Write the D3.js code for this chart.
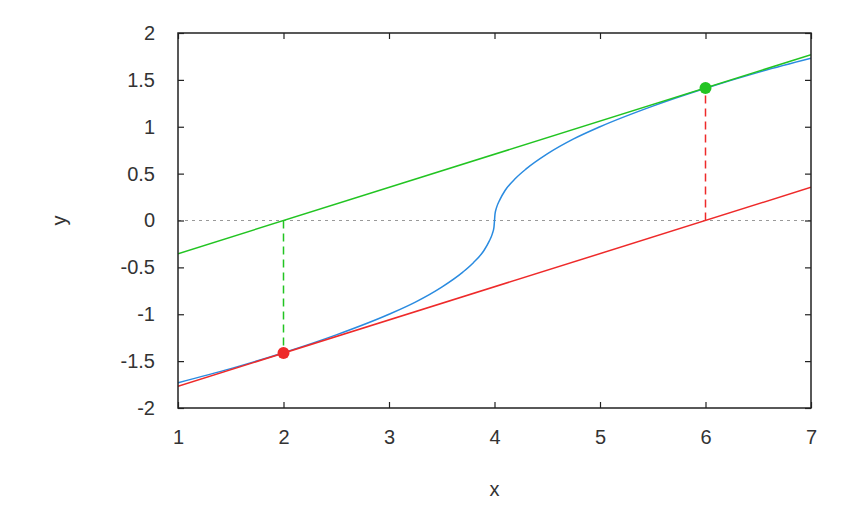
<!DOCTYPE html>
<html>
<head>
<meta charset="utf-8">
<script src="https://cdn.jsdelivr.net/npm/d3@7.9.0/dist/d3.min.js"></script>
<style>
  body { margin: 0; background: #fff; }
  text { font-family: "Liberation Sans", Arial, sans-serif; fill: #333; }
</style>
</head>
<body>
<svg width="853" height="512"></svg>
<script>
// values
const xTicks = [1, 2, 3, 4, 5, 6, 7];
const xTickLabels = ['1', '2', '3', '4', '5', '6', '7'];
const yTicks = [-2, -1.5, -1, -0.5, 0, 0.5, 1, 1.5, 2];
const yTickLabels = ['-2', '-1.5', '-1', '-0.5', '0', '0.5', '1', '1.5', '2'];

// blue curve
const curveX = [1, 1.5, 2, 2.5, 3, 3.25, 3.5, 3.7, 3.8, 3.9, 3.95, 3.98, 3.995, 4, 4.005, 4.02, 4.05, 4.1, 4.2, 4.3, 4.5, 4.75, 5, 5.5, 6, 6.5, 7];
const curveY = [-1.73, -1.58, -1.41, -1.22, -1.0, -0.87, -0.71, -0.55, -0.45, -0.32, -0.22, -0.14, -0.07, 0, 0.07, 0.14, 0.22, 0.32, 0.45, 0.55, 0.71, 0.87, 1.0, 1.22, 1.41, 1.58, 1.73];

// straight lines: [x0, y0, x1, y1]
const greenLine = [1, -0.354, 7, 1.768];
const redLine = [1, -1.768, 7, 0.354];

// dashed drops and points
const greenDrop = [2, 0, 2, -1.414];
const redDrop = [6, 0, 6, 1.414];
const redPoint = [2, -1.414];
const greenPoint = [6, 1.414];

const blue = '#2a8be0', red = '#ee2a2a', green = '#22c422';

const svg = d3.select('svg');
const margin = { left: 178, right: 42, top: 33, bottom: 104 };
const W = 853 - margin.left - margin.right;
const H = 512 - margin.top - margin.bottom;

const x = d3.scaleLinear().domain([1, 7]).range([0, W]);
const y = d3.scaleLinear().domain([-2, 2]).range([H, 0]);

const g = svg.append('g').attr('transform', `translate(${margin.left},${margin.top})`);

g.append('clipPath').attr('id', 'clip')
  .append('rect').attr('width', W).attr('height', H);

const plot = g.append('g').attr('clip-path', 'url(#clip)');

// zero line
plot.append('line')
  .attr('x1', 0).attr('x2', W)
  .attr('y1', y(0)).attr('y2', y(0))
  .attr('stroke', '#999').attr('stroke-width', 1.2)
  .attr('stroke-dasharray', '3,4');

const pts = curveX.map((d, i) => [d, curveY[i]]);
plot.append('path')
  .datum(pts)
  .attr('fill', 'none')
  .attr('stroke', blue)
  .attr('stroke-width', 1.5)
  .attr('d', d3.line().x(d => x(d[0])).y(d => y(d[1])).curve(d3.curveMonotoneX));

function seg(s, color, dash) {
  plot.append('line')
    .attr('x1', x(s[0])).attr('y1', y(s[1]))
    .attr('x2', x(s[2])).attr('y2', y(s[3]))
    .attr('stroke', color).attr('stroke-width', 1.5)
    .attr('stroke-dasharray', dash || null);
}
seg(redLine, red);
seg(greenLine, green);
seg(greenDrop, green, '8,5');
seg(redDrop, red, '8,5');

plot.append('circle').attr('cx', x(redPoint[0])).attr('cy', y(redPoint[1])).attr('r', 6).attr('fill', red);
plot.append('circle').attr('cx', x(greenPoint[0])).attr('cy', y(greenPoint[1])).attr('r', 6).attr('fill', green);

// frame with inward ticks
const tl = 6;
const axB = d3.axisBottom(x).tickValues(xTicks).tickSizeInner(-tl).tickSizeOuter(0).tickPadding(22)
  .tickFormat((d, i) => xTickLabels[i]);
const axT = d3.axisTop(x).tickValues(xTicks).tickSizeInner(-tl).tickSizeOuter(0).tickFormat('');
const axL = d3.axisLeft(y).tickValues(yTicks).tickSizeInner(-tl).tickSizeOuter(0).tickPadding(23)
  .tickFormat((d, i) => yTickLabels[i]);
const axR = d3.axisRight(y).tickValues(yTicks).tickSizeInner(-tl).tickSizeOuter(0).tickFormat('');

function styleAxis(sel) {
  sel.select('.domain').remove();
  sel.selectAll('line').attr('stroke', '#222').attr('stroke-width', 1.2);
  sel.selectAll('text').attr('font-size', 20).attr('fill', '#333')
    .attr('font-family', '"Liberation Sans", Arial, sans-serif');
}
g.append('g').attr('transform', `translate(0,${H})`).call(axB).call(styleAxis);
g.append('g').call(axT).call(styleAxis);
g.append('g').call(axL).call(styleAxis);
g.append('g').attr('transform', `translate(${W},0)`).call(axR).call(styleAxis);

g.append('rect').attr('width', W).attr('height', H)
  .attr('fill', 'none').attr('stroke', '#222').attr('stroke-width', 1.5);

svg.append('text').attr('x', margin.left + W / 2).attr('y', 496)
  .attr('text-anchor', 'middle').attr('font-size', 20).text('x');
svg.append('text')
  .attr('transform', `translate(66,${margin.top + H / 2}) rotate(-90)`)
  .attr('text-anchor', 'middle').attr('font-size', 20).text('y');
</script>
</body>
</html>
